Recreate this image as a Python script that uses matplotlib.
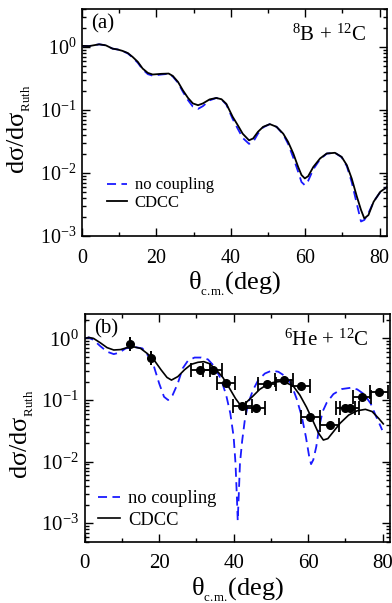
import matplotlib
matplotlib.use("Agg")
import matplotlib.pyplot as plt
from matplotlib.ticker import LogLocator, MultipleLocator, NullFormatter

plt.rcParams['font.family'] = ['Liberation Serif', 'DejaVu Serif']
plt.rcParams['mathtext.fontset'] = 'custom'
plt.rcParams['mathtext.rm'] = 'Liberation Serif'
plt.rcParams['mathtext.it'] = 'Liberation Serif:italic'

# (a) 8B + 12C
theta_a = [0, 1.9, 4.6, 6.4, 8.2, 9.6, 10.9, 12.3, 13.6, 15.0, 16.3, 17.7, 19.0, 21.3, 23.3,
           24.4, 25.8, 27.1, 28.5, 29.8, 31.2, 32.5, 34.3, 36.1, 37.5, 38.8, 40.5, 41.9,
           43.2, 44.9, 46.0, 47.3, 48.7, 50.5, 52.3, 54.1, 55.4, 56.8, 58.1, 59.0, 59.9,
           60.8, 62.2, 64.0, 65.8, 68.0, 69.8, 71.2, 72.5, 73.9, 75.0, 75.9, 77.0, 78.4,
           80.2, 82.0]
cdcc_a = [1.04, 1.03, 1.10, 1.06, 0.94, 0.91, 0.865, 0.80, 0.695, 0.58, 0.454, 0.387, 0.365, 0.374, 0.378,
          0.347, 0.279, 0.206, 0.155, 0.127, 0.119, 0.127, 0.147, 0.155, 0.148, 0.125, 0.078, 0.057,
          0.042, 0.033, 0.0353, 0.045, 0.054, 0.0596, 0.054, 0.042, 0.0312, 0.0204, 0.0125, 0.0093, 0.0082,
          0.0089, 0.0125, 0.017, 0.0204, 0.0209, 0.018, 0.0133, 0.0082, 0.0042, 0.0026, 0.0019, 0.00215, 0.0035,
          0.00503, 0.0060]
nocoup_a = [1.04, 1.03, 1.10, 1.06, 0.94, 0.91, 0.86, 0.79, 0.68, 0.56, 0.44, 0.37, 0.35, 0.365, 0.375,
            0.34, 0.27, 0.195, 0.143, 0.113, 0.104, 0.115, 0.142, 0.155, 0.147, 0.122, 0.072, 0.050,
            0.036, 0.029, 0.031, 0.042, 0.053, 0.0596, 0.054, 0.041, 0.029, 0.0175, 0.0105, 0.0072, 0.0064,
            0.0075, 0.0115, 0.0165, 0.0203, 0.0209, 0.0178, 0.0128, 0.0072, 0.0032, 0.0017, 0.0018, 0.0023, 0.0035,
            0.0050, 0.0060]

# (b) 6He + 12C
theta_b_cdcc = [0, 1.1, 2.4, 4.2, 6.0, 7.8, 9.6, 11.4, 13.2, 15.0, 16.8, 18.6, 20.5, 22.1, 23.3,
                25.0, 26.8, 28.6, 30.4, 32.0, 33.5, 35.3, 37.1, 38.9, 40.5, 41.6, 42.8, 43.6,
                45.2, 47.0, 48.8, 50.6, 52.4, 54.2, 56.0, 57.8, 59.6, 61.4, 62.8, 64.1, 65.3,
                66.8, 68.6, 70.9, 73.2, 75.4, 77.2, 79.0, 80.2]
cdcc_b = [1.0, 1.04, 1.0, 0.85, 0.71, 0.65, 0.66, 0.71, 0.73, 0.69, 0.57, 0.45, 0.31, 0.233, 0.211,
          0.24, 0.31, 0.38, 0.41, 0.42, 0.39, 0.31, 0.233, 0.155, 0.106, 0.086, 0.083, 0.094,
          0.116, 0.149, 0.175, 0.193, 0.20, 0.19, 0.169, 0.12, 0.076, 0.0445, 0.029, 0.0224, 0.0236,
          0.0306, 0.042, 0.057, 0.067, 0.0706, 0.065, 0.050, 0.041]
theta_b_nc = [0, 1.1, 2.4, 4.2, 6.0, 7.8, 9.2, 11.0, 13.2, 15.5, 17.3, 18.6, 20.0, 21.3, 22.4,
              23.6, 25.0, 26.3, 27.7, 29.5, 31.3, 33.1, 34.9, 36.7, 38.0, 39.1, 40.0, 40.5,
              40.9, 41.1, 41.4, 41.7, 42.3, 43.0, 43.9, 45.2, 46.6, 48.4, 50.2, 52.0, 53.8,
              55.4, 56.9, 58.3, 59.4, 60.3, 60.8, 61.4, 62.2, 63.0, 63.9, 65.0, 66.8, 69.1,
              71.4, 73.2, 75.0, 76.8, 78.1, 79.5, 79.9]
nocoup_b = [1.0, 1.04, 0.94, 0.75, 0.61, 0.557, 0.586, 0.69, 0.73, 0.69, 0.50, 0.35, 0.186, 0.113, 0.10,
            0.12, 0.186, 0.326, 0.434, 0.49, 0.49, 0.457, 0.347, 0.211, 0.12, 0.061, 0.0254, 0.0094,
            0.0024, 0.0011, 0.0031, 0.0094, 0.022, 0.047, 0.088, 0.145, 0.211, 0.27, 0.30, 0.288, 0.245,
            0.186, 0.106, 0.054, 0.0254, 0.012, 0.0091, 0.0107, 0.0175, 0.037, 0.065, 0.0905, 0.125, 0.151,
            0.158, 0.149, 0.125, 0.088, 0.057, 0.037, 0.0325]
theta_exp = [12.1, 17.9, 31.1, 34.4, 38.0, 42.3, 45.9, 49.0, 53.5, 58.0, 60.6, 65.8, 70.0, 71.2, 74.5, 79.0]
sigma_exp = [0.81, 0.49, 0.31, 0.31, 0.19, 0.080, 0.075, 0.18, 0.21, 0.17, 0.054, 0.039, 0.073, 0.075, 0.11, 0.133]
theta_err = [0, 0, 2.5, 2.5, 2.5, 2.5, 2.5, 2.5, 2.5, 2.5, 2.5, 2.5, 2.5, 2.5, 2.5, 2.5]

fig = plt.figure(figsize=(3.92, 6.03), dpi=100)
ax1 = fig.add_axes([0.2092, 0.6086, 0.7781, 0.3765])
ax2 = fig.add_axes([0.2161, 0.1017, 0.7788, 0.3776])

dash = (0, (5, 3))
ax1.plot(theta_a, nocoup_a, color='#1a1aff', ls=dash, lw=1.3, label='no coupling')
ax1.plot(theta_a, cdcc_a, color='black', lw=1.3, label='CDCC')

ax2.plot(theta_b_nc, nocoup_b, color='#1a1aff', ls=dash, lw=1.3, label='no coupling')
ax2.plot(theta_b_cdcc, cdcc_b, color='black', lw=1.2, label='CDCC')
ax2.errorbar(theta_exp, sigma_exp, xerr=theta_err, fmt='o', color='black', ms=5.5,
             elinewidth=1.3, capsize=4.7, capthick=1.3)

settings = [(ax1, '(a)', '$^{8}$B + $^{12}$C', (1e-3, 4), 14.4, 12, 1.1, 0.1),
            (ax2, '(b)', '$^{6}$He + $^{12}$C', (5e-4, 2.5), 15, 13.3, 0.3, 0.25)]
for ax, lab, sysname, ylim, tfs, lfs, bap, lsp in settings:
    ax.set_yscale('log')
    ax.set_xlim(0, 82)
    ax.set_ylim(*ylim)
    ax.xaxis.set_major_locator(MultipleLocator(20))
    ax.xaxis.set_minor_locator(MultipleLocator(10))
    ax.yaxis.set_major_locator(LogLocator(base=10, numticks=10))
    ax.yaxis.set_minor_locator(LogLocator(base=10, subs=range(2, 10), numticks=10))
    ax.yaxis.set_minor_formatter(NullFormatter())
    ax.tick_params(which='both', direction='in', top=True, right=True, labelsize=tfs, width=1)
    ax.tick_params(axis='x', pad=9)
    ax.tick_params(axis='y', pad=4)
    ax.tick_params(which='major', length=6)
    ax.tick_params(which='minor', length=3)
    for s in ax.spines.values():
        s.set_linewidth(1.2)
    ax.set_xlabel('θ$_{_{\\rm c.\\!m.\\!}}$(deg)', fontsize=19, labelpad=2)
    ax.set_ylabel('dσ/dσ$_{_{\\rm Ruth}}$', fontsize=19)
    ax.yaxis.set_label_coords(-0.16, 0.47)
    ax.text(0.03, 0.975, lab, transform=ax.transAxes, ha='left', va='top', fontsize=15)
    ax.text(0.93, 0.93, sysname, transform=ax.transAxes, ha='right', va='top', fontsize=15)
    ax.legend(loc='lower left', frameon=False, fontsize=lfs, handlelength=1.2,
              handletextpad=0.45, labelspacing=lsp, borderaxespad=bap)

fig.savefig('out.png', dpi=100)
